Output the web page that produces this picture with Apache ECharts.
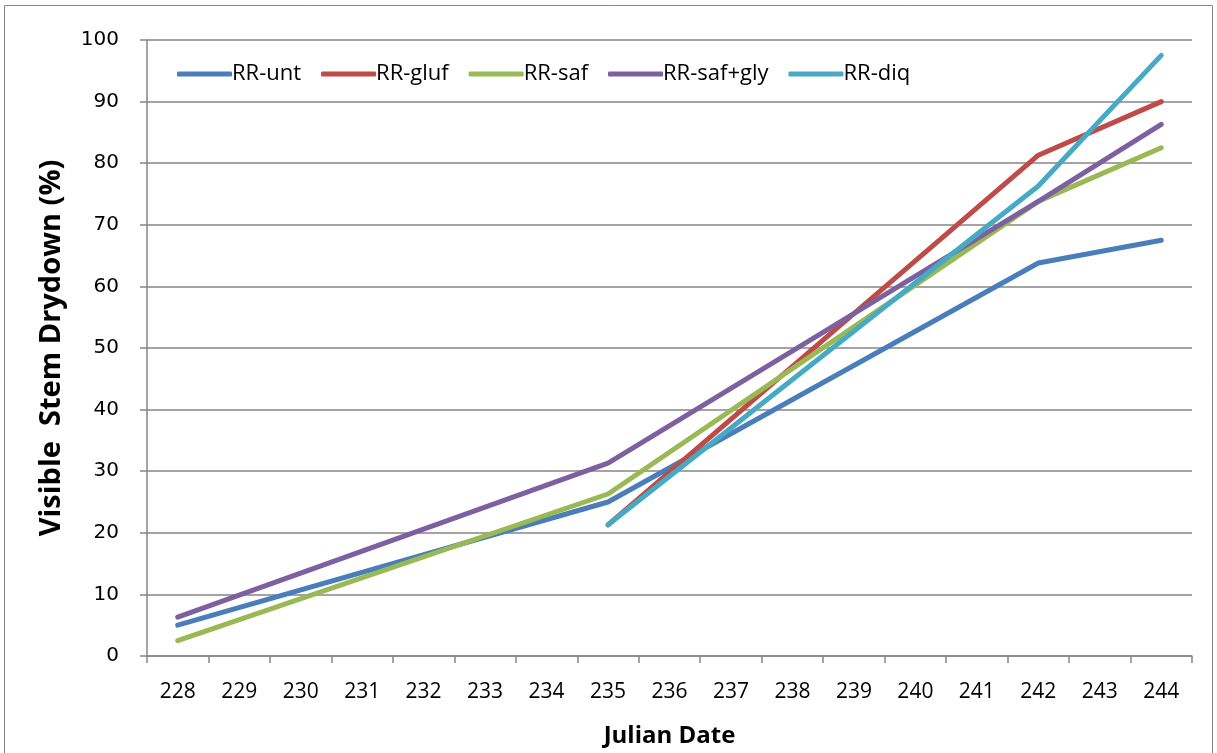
<!DOCTYPE html>
<html><head><meta charset="utf-8">
<script src="https://cdn.jsdelivr.net/npm/echarts@6/dist/echarts.min.js"></script>
<style>html,body{margin:0;padding:0;background:#fff}#c{width:1217px;height:753px}</style>
</head><body><div id="c"></div>
<script>
const categories = ['228','229','230','231','232','233','234','235','236','237','238','239','240','241','242','243','244'];
const rrUnt     = [5.0, null, null, null, null, null, null, 25.0, null, null, null, null, null, null, 63.8, null, 67.5];
const rrGluf    = [null, null, null, null, null, null, null, 21.3, null, null, null, null, null, null, 81.3, null, 90.0];
const rrSaf     = [2.5, null, null, null, null, null, null, 26.3, null, null, null, null, null, null, 73.8, null, 82.5];
const rrSafGly  = [6.3, null, null, null, null, null, null, 31.3, null, null, null, null, null, null, 73.8, null, 86.3];
const rrDiq     = [null, null, null, null, null, null, null, 21.3, null, null, null, null, null, null, 76.3, null, 97.5];
const seriesNames = ['RR-unt','RR-gluf','RR-saf','RR-saf+gly','RR-diq'];
const colors = ['#4A7EBB','#BE4B48','#98B954','#7D60A0','#46AAC5'];
const seriesData = [rrUnt, rrGluf, rrSaf, rrSafGly, rrDiq];

const FONT = '"Open Sans",sans-serif';
const chart = echarts.init(document.getElementById('c'));
chart.setOption({
  animation: false,
  color: colors,
  graphic: [{type:'rect', shape:{x:4.5,y:5.5,width:1208,height:760}, style:{fill:'none', stroke:'#868686', lineWidth:1}, silent:true}],
  grid: {left:147, right:25, top:40, bottom:96, containLabel:false},
  legend: {
    top: 58, left: 172, itemGap: 20, itemWidth: 55, itemHeight: 5,
    icon: 'roundRect',
    textStyle: {fontFamily:FONT, fontSize:22, color:'#000', padding:[0,0,0,-5]},
    data: seriesNames
  },
  xAxis: {
    type:'category', data: categories, boundaryGap: true,
    axisLine:{lineStyle:{color:'#868686', width:1.5}},
    axisTick:{show:true, alignWithLabel:false, length:7, lineStyle:{color:'#868686', width:1.5}},
    axisLabel:{fontFamily:FONT, fontSize:21, color:'#000', margin:26},
    name:'Julian Date', nameLocation:'middle', nameGap:68,
    nameTextStyle:{fontFamily:FONT, fontSize:24, fontWeight:'bold', color:'#000'}
  },
  yAxis: {
    type:'value', min:0, max:100, interval:10,
    axisLine:{show:true, lineStyle:{color:'#868686', width:1.5}},
    axisTick:{show:true, length:7, lineStyle:{color:'#868686', width:1.5}},
    splitLine:{lineStyle:{color:'#868686', width:1.5}},
    axisLabel:{fontFamily:'"DejaVu Sans",sans-serif', fontSize:20, color:'#000', margin:28},
    name:'Visible  Stem Drydown (%)', nameLocation:'middle', nameGap:81, nameRotate:90,
    nameTextStyle:{fontFamily:FONT, fontSize:29, fontWeight:'bold', color:'#000'}
  },
  series: seriesData.map((d,i)=>({
    name: seriesNames[i], type:'line', data: d, connectNulls:true,
    showSymbol:false, symbol:'none',
    lineStyle:{width:5, color:colors[i], cap:'round', join:'round'},
    itemStyle:{color:colors[i]}
  }))
});
</script></body></html>
